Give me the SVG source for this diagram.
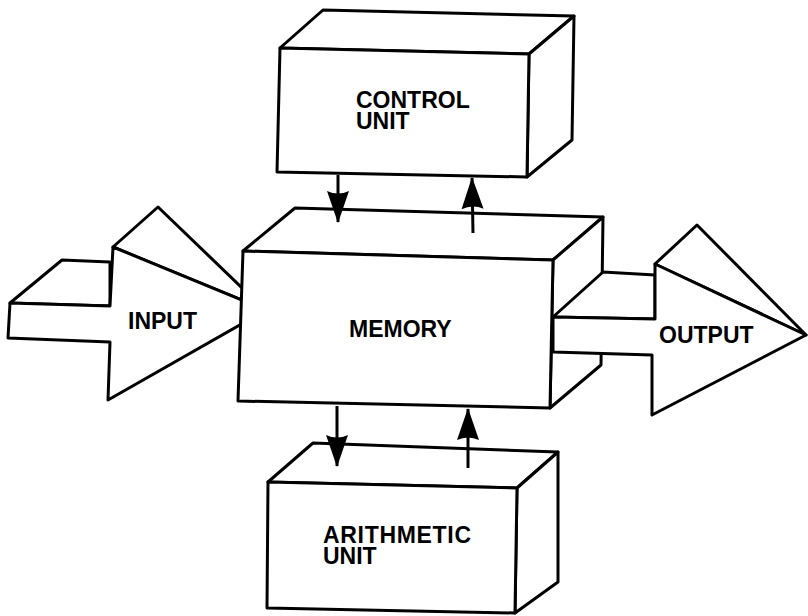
<svg xmlns="http://www.w3.org/2000/svg" width="808" height="616" viewBox="0 0 808 616">
  <style>
    .face { fill: #ffffff; stroke: #000000; stroke-width: 3; stroke-linejoin: round; }
    .wire { fill: none; stroke: #000000; stroke-width: 3; }
    .label { font-family: "Liberation Sans", Arial, Helvetica, sans-serif; font-weight: bold; font-size: 23px; fill: #000000; }
  </style>
  <defs>
    <marker id="head" markerUnits="userSpaceOnUse" markerWidth="40" markerHeight="30" viewBox="-34 -15 40 30" refX="0" refY="0" orient="auto">
      <path d="M1,0 L-31,-11 Q-26,0 -31,11 Z" fill="#000000"/>
    </marker>
  </defs>
  <rect width="808" height="616" fill="#ffffff"/>

  <!-- input arrow, passing behind the memory block -->
  <g id="input">
    <polygon class="face" points="10,303 62,260 110,262 110,306"/>
    <polygon class="face" points="113,247 158,207 264,309 266,310"/>
    <polygon class="face" points="10,303 110,306 113,247 266,310 108,400 110,342 8,338"/>
    <text class="label" x="128" y="329">INPUT</text>
  </g>

  <!-- control unit block -->
  <g id="control-unit">
    <polygon class="face" points="280,48 323,10 574,16 529,54"/>
    <polygon class="face" points="529,54 574,16 572,140 527,177"/>
    <polygon class="face" points="280,48 529,54 527,177 277,172"/>
    <text class="label" x="356" y="108">CONTROL</text>
    <text class="label" x="356" y="129">UNIT</text>
  </g>

  <!-- memory block -->
  <g id="memory">
    <polygon class="face" points="243,251 295,208 603,217 553,260"/>
    <polygon class="face" points="553,260 603,217 601,365 550,408"/>
    <polygon class="face" points="243,251 553,260 550,408 238,401"/>
    <text class="label" x="349" y="337">MEMORY</text>
  </g>

  <!-- output arrow, leaving the memory block -->
  <g id="output">
    <polygon class="face" points="553,317 603,272 655,275 655,319"/>
    <polygon class="face" points="655,264 697,225 806,335"/>
    <polygon class="face" points="553,317 655,319 655,264 806,335 652,415 652,355 553,352"/>
    <text class="label" x="659" y="343">OUTPUT</text>
  </g>

  <!-- arithmetic unit block -->
  <g id="arithmetic-unit">
    <polygon class="face" points="268,482 313,443 558,452 517,488"/>
    <polygon class="face" points="517,488 558,452 558,582 515,613"/>
    <polygon class="face" points="268,482 517,488 515,613 267,608"/>
    <text class="label" x="323" y="543" textLength="148" lengthAdjust="spacing">ARITHMETIC</text>
    <text class="label" x="323" y="564">UNIT</text>
  </g>

  <!-- data paths between the blocks -->
  <g id="connectors">
    <line class="wire" x1="338" y1="175" x2="338" y2="222" marker-end="url(#head)"/>
    <line class="wire" x1="473" y1="233" x2="472" y2="178" marker-end="url(#head)"/>
    <line class="wire" x1="337" y1="406" x2="337" y2="466" marker-end="url(#head)"/>
    <line class="wire" x1="468" y1="468" x2="468" y2="409" marker-end="url(#head)"/>
  </g>
</svg>
